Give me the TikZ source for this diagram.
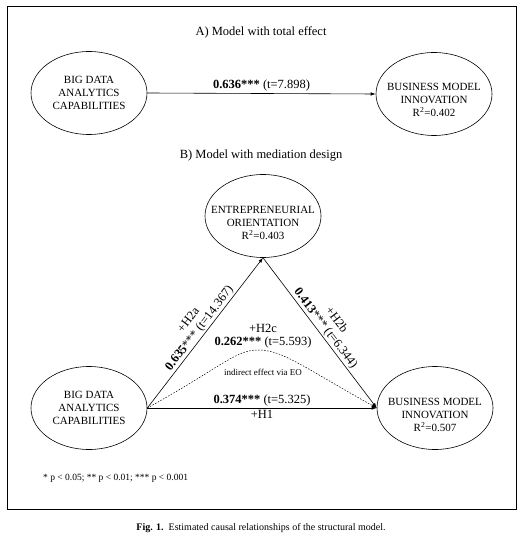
\documentclass[tikz,border=0pt]{standalone}
\usepackage{fontspec}
\setmainfont{Liberation Serif}
\usetikzlibrary{shapes.geometric,arrows.meta}

\tikzset{
  bubble/.style={draw, ellipse, line width=0.6pt, minimum width=116pt, minimum height=83pt, inner sep=0pt},
  bubbletext/.style={align=center, inner sep=0pt, font=\fontsize{11}{13}\selectfont},
  path/.style={line width=0.6pt, -{Latex[length=5pt,width=3.5pt]}},
  lbl/.style={inner sep=0pt, align=center, font=\fontsize{12.5}{13.5}\selectfont},
  heading/.style={font=\fontsize{12.5}{14}\selectfont}
}

\begin{document}
\begin{tikzpicture}[x=1pt, y=-1pt]
\useasboundingbox (0,0) rectangle (524,534);
\draw [line width=1pt] (7,7) rectangle (516,509);

% A) total effect
\node [heading] (titleA) at (261,32) {A) Model with total effect};
\node [bubble] (bdacA) at (89,93) {};
\node [bubbletext] (bdacAtext) at (bdacA) {BIG DATA\\ANALYTICS\\CAPABILITIES};
\node [bubble] (bmiA) at (434,94) {};
\node [bubbletext] (bmiAtext) at ([yshift=-6pt]bmiA.center) {BUSINESS MODEL\\INNOVATION\\R\textsuperscript{2}=0.402};
\draw [path] (bdacA.east) -- (bmiA.west) node [lbl, midway, above=2pt] (totA) {\textbf{0.636***} (t=7.898)};

% B) mediation design
\node [heading] (titleB) at (261,156) {B) Model with mediation design};
\node [bubble] (eoB) at (263,216) {};
\node [bubbletext] (eoBtext) at ([yshift=-7pt]eoB.center) {ENTREPRENEURIAL\\ORIENTATION\\R\textsuperscript{2}=0.403};
\node [bubble] (bdacB) at (89,408) {};
\node [bubbletext] (bdacBtext) at (bdacB) {BIG DATA\\ANALYTICS\\CAPABILITIES};
\node [bubble] (bmiB) at (435,408) {};
\node [bubbletext] (bmiBtext) at ([yshift=-7pt]bmiB.center) {BUSINESS MODEL\\INNOVATION\\R\textsuperscript{2}=0.507};

\draw [path] (bdacB.east) -- (eoB.south) node [lbl, midway, sloped, above=1pt] (h2a) {+H2a\\\textbf{0.635}*** (t=14.367)};
\draw [path] (eoB.south) -- (bmiB.west) node [lbl, midway, sloped, above=1pt] (h2b) {+H2b\\\textbf{0.413}*** (t=6.344)};
\draw [path] (bdacB.east) -- (bmiB.west)
  node [lbl, midway, above=2pt] (h1val) {\textbf{0.374***} (t=5.325)}
  node [lbl, midway, below=2pt] (h1) {+H1};
\draw [path, line width=0.5pt, dash pattern=on 1.5pt off 1.5pt] (bdacB.east) .. controls (220,368) and (235,350) .. (258,350)
  .. controls (282,350) and (300,365) .. (bmiB.west);
\node [lbl] (h2c) at (263,336) {+H2c\\\textbf{0.262***} (t=5.593)};
\node [font=\fontsize{9}{10}\selectfont, inner sep=0pt] (via) at (263,372) {indirect effect via EO};

\node [anchor=west, inner sep=0pt, font=\fontsize{9.5}{11}\selectfont] (signif) at (43,478) {* p < 0.05; ** p < 0.01; *** p < 0.001};
\node [inner sep=0pt, font=\fontsize{10}{12}\selectfont] (caption) at (261,528) {\textbf{Fig. 1.}\ \ Estimated causal relationships of the structural model.};
\end{tikzpicture}
\end{document}
